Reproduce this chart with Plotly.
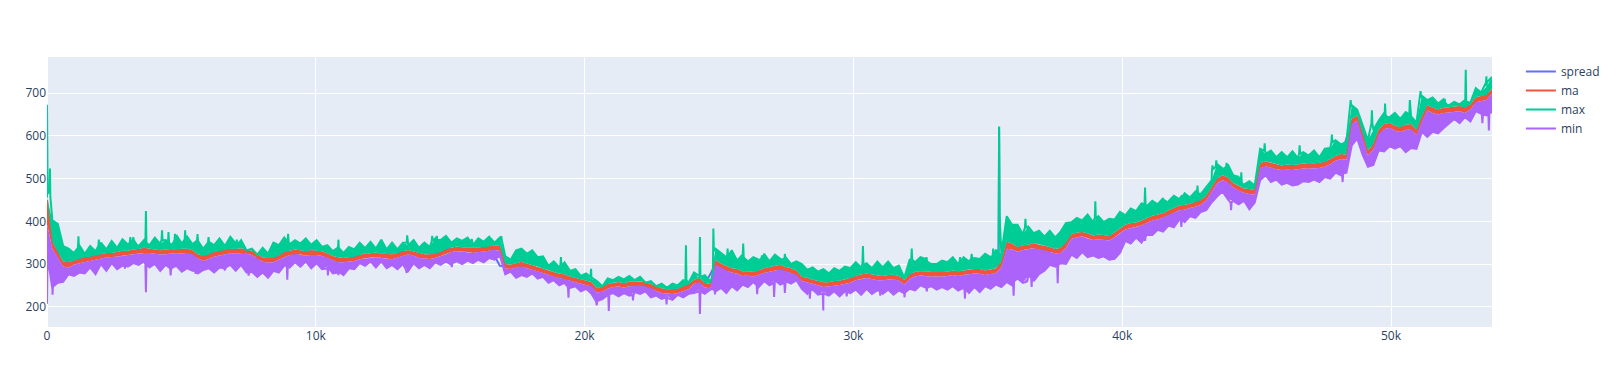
import plotly.graph_objects as go

LAST_INDEX = 53756          # last sample index on the x axis

# ---- moving average, one reading per bin (269 bins across the series)
ma = [
    450, 345, 322, 300, 298,  303, 307, 310, 312, 315,
    318, 320, 321, 323, 325,  326, 328, 330, 332, 331,
    329, 327, 328, 330, 329,  330, 331, 327, 318, 313,
    317, 322, 326, 328, 330,  330, 331, 329, 326, 318,
    310, 308, 309, 315, 322,  326, 328, 327, 325, 327,
    326, 324, 320, 314, 310,  309, 310, 312, 316, 319,
    320, 321, 319, 318, 317,  320, 324, 328, 325, 320,
    318, 317, 319, 323, 329,  333, 335, 334, 333, 332,
    333, 334, 336, 338, 337,  295, 293, 297, 299, 296,
    292, 288, 284, 280, 276,  272, 270, 266, 262, 260,
    256, 252, 238, 240, 248,  251, 252, 250, 253, 254,
    254, 252, 248, 242, 238,  236, 235, 237, 242, 247,
    258, 262, 250, 248, 305,  296, 290, 285, 282, 278,
    278, 275, 280, 284, 288,  290, 292, 288, 284, 280,
    265, 262, 258, 255, 252,  252, 254, 256, 258, 262,
    267, 270, 272, 270, 268,  267, 268, 270, 266, 258,
    270, 276, 278, 277, 276,  276, 275, 277, 279, 278,
    280, 281, 283, 282, 280,  282, 284, 300, 345, 342,
    335, 338, 340, 343, 340,  338, 334, 330, 332, 345,
    365, 368, 370, 366, 362,  364, 362, 360, 368, 378,
    387, 390, 392, 396, 402,  408, 410, 414, 420, 426,
    432, 433, 436, 440, 445,  455, 475, 495, 502, 498,
    485, 478, 472, 470, 468,  530, 535, 532, 528, 526,
    527, 526, 528, 530, 529,  530, 531, 534, 540, 548,
    552, 550, 635, 642, 600,  560, 575, 610, 622, 625,
    618, 615, 620, 622, 608,  640, 666, 660, 656, 660,
    661, 662, 664, 660, 668,  685, 688, 690, 705,
]

# ---- rolling max: upper edge and lower edge of the green band, per bin
max_top = [
    455, 402, 394, 342, 336,  326, 344, 324, 342, 330,
    350, 334, 354, 338, 358,  346, 362, 342, 356, 344,
    362, 347, 356, 345, 368,  348, 364, 346, 360, 336,
    354, 344, 360, 342, 364,  348, 356, 332, 336, 322,
    338, 324, 350, 344, 362,  346, 356, 348, 360, 345,
    356, 340, 344, 330, 342,  326, 340, 334, 350, 337,
    352, 336, 357, 334, 350,  334, 350, 344, 356, 338,
    350, 340, 360, 356, 366,  350, 360, 354, 362, 344,
    360, 352, 364, 350, 362,  318, 310, 332, 336, 324,
    332, 316, 318, 296, 306,  292, 304, 284, 288, 272,
    278, 264, 260, 248, 266,  262, 270, 264, 272, 262,
    270, 256, 260, 248, 254,  244, 254, 250, 262, 256,
    280, 266, 274, 260, 336,  326, 316, 332, 308, 322,
    306, 316, 310, 324, 306,  322, 312, 316, 300, 306,
    300, 286, 292, 282, 288,  278, 290, 284, 294, 290,
    304, 292, 302, 290, 306,  292, 306, 290, 296, 268,
    310, 304, 316, 312, 300,  300, 308, 304, 316, 300,
    316, 306, 314, 312, 324,  316, 332, 324, 412, 392,
    392, 370, 388, 372, 378,  364, 378, 362, 376, 396,
    398, 408, 402, 416, 398,  412, 398, 406, 404, 422,
    414, 430, 424, 442, 436,  448, 440, 454, 446, 460,
    452, 466, 456, 470, 464,  480, 496, 534, 524, 534,
    508, 504, 486, 494, 484,  570, 558, 566, 550, 562,
    550, 564, 548, 562, 554,  566, 550, 570, 572, 590,
    580, 586, 672, 662, 624,  590, 614, 636, 654, 644,
    654, 640, 656, 646, 632,  694, 684, 690, 676, 686,
    672, 680, 674, 684, 678,  712, 702, 716, 738,
]
max_low = [
    455, 352, 328, 306, 304,  308, 312, 316, 317, 320,
    323, 326, 326, 328, 331,  331, 334, 335, 338, 336,
    334, 332, 334, 335, 334,  336, 336, 332, 323, 319,
    322, 328, 331, 333, 336,  335, 337, 334, 331, 324,
    315, 314, 314, 320, 328,  331, 334, 332, 330, 333,
    331, 330, 325, 319, 316,  314, 316, 317, 321, 325,
    325, 327, 324, 323, 323,  325, 330, 333, 330, 326,
    323, 323, 324, 328, 335,  338, 341, 339, 338, 338,
    338, 340, 341, 344, 342,  300, 299, 302, 305, 301,
    297, 294, 289, 286, 281,  277, 276, 271, 268, 265,
    261, 258, 243, 246, 253,  256, 258, 255, 259, 259,
    259, 258, 253, 248, 243,  241, 241, 242, 248, 252,
    263, 268, 255, 254, 310,  301, 296, 290, 288, 283,
    283, 281, 285, 290, 293,  295, 298, 293, 290, 285,
    270, 268, 263, 261, 257,  257, 260, 261, 264, 267,
    272, 276, 277, 276, 273,  272, 274, 275, 272, 263,
    275, 282, 283, 283, 281,  281, 281, 282, 285, 283,
    285, 287, 288, 288, 285,  287, 290, 305, 352, 348,
    340, 344, 345, 349, 345,  343, 340, 335, 338, 350,
    370, 374, 375, 372, 367,  369, 368, 365, 374, 383,
    392, 396, 397, 402, 407,  413, 416, 419, 426, 431,
    437, 439, 441, 446, 450,  460, 481, 500, 508, 503,
    490, 484, 477, 476, 473,  536, 541, 537, 534, 531,
    533, 532, 533, 536, 534,  536, 537, 539, 546, 553,
    558, 556, 641, 648, 606,  566, 581, 616, 628, 631,
    624, 621, 626, 628, 614,  646, 672, 666, 662, 666,
    667, 668, 670, 666, 674,  691, 694, 696, 711,
]
# narrow spikes of the max line: sample index and value
max_spike_x = [
    0, 25, 95, 110, 125, 1150, 1170, 1190, 1910, 1930, 1950,
    3080, 3100, 3120, 3190, 3210, 3230, 3660, 3680, 3700,
    4260, 4280, 4300, 4500, 4520, 4540, 4740, 4760, 4780,
    5120, 5140, 5160, 5580, 5600, 5620, 5990, 6010, 6030,
    7040, 7060, 7080, 8950, 8970, 8990, 10820, 10840, 10860,
    13380, 13400, 13420, 14310, 14330, 14350, 14480, 14500, 14520,
    15780, 15800, 15820, 16880, 16900, 16920, 19100, 19120, 19140,
    20220, 20240, 20260, 23750, 23770, 23790, 24270, 24290, 24310,
    24770, 24790, 24810, 25300, 25320, 25340, 25880, 25900, 25920,
    26580, 26600, 26620, 27430, 27450, 27470, 30335, 30355, 30375,
    32150, 32170, 32190, 32700, 32720, 32740, 33950, 33970, 33990,
    34380, 34400, 34420, 35180, 35200, 35220, 35400, 35420, 35440,
    36380, 36400, 36420, 38980, 39000, 39020, 40830, 40850, 40870,
    41580, 41600, 41620, 42210, 42230, 42250, 42780, 42800, 42820,
    43340, 43360, 43380, 43480, 43500, 43520, 43860, 43880, 43900,
    44410, 44430, 44450, 45280, 45300, 45320, 46580, 46600, 46620,
    47780, 47800, 47820, 48480, 48500, 48520, 49270, 49290, 49310,
    49760, 49780, 49800, 50680, 50700, 50720, 51080, 51100, 51120,
    51980, 52000, 52020, 52760, 52780, 52800, 53530, 53550, 53570,
]
max_spike_y = [
    673, 465, 470, 524, 458, 338, 365, 336, 342, 357, 340,
    350, 363, 348, 352, 363, 350, 350, 424, 350,
    356, 379, 355, 352, 375, 350, 350, 371, 352,
    357, 379, 357, 355, 370, 352, 350, 363, 352,
    345, 357, 344, 352, 371, 352, 338, 357, 337,
    350, 367, 350, 352, 366, 354, 355, 366, 356,
    350, 359, 352, 357, 365, 356, 298, 316, 296,
    270, 289, 268, 260, 344, 262, 272, 363, 270,
    268, 383, 330, 318, 336, 318, 318, 348, 315,
    310, 320, 308, 306, 324, 304, 300, 342, 298,
    310, 336, 310, 304, 316, 305, 306, 316, 305,
    312, 324, 312, 320, 336, 322, 330, 622, 412,
    385, 406, 385, 408, 447, 406, 440, 479, 440,
    440, 449, 440, 458, 461, 458, 466, 484, 466,
    520, 531, 522, 528, 543, 528, 520, 537, 518,
    490, 515, 488, 565, 583, 565, 558, 578, 558,
    585, 603, 585, 668, 684, 668, 630, 660, 628,
    645, 676, 645, 650, 684, 650, 690, 705, 690,
    674, 687, 674, 680, 755, 680, 725, 740, 726,
]

# ---- rolling min: upper edge and lower edge of the purple band, per bin
min_top = [
    395, 335, 316, 294, 292,  298, 302, 305, 307, 310,
    313, 315, 316, 318, 319,  321, 323, 325, 326, 326,
    324, 322, 322, 325, 324,  325, 326, 322, 313, 307,
    312, 317, 320, 323, 325,  325, 325, 324, 321, 313,
    305, 303, 304, 310, 316,  321, 323, 322, 320, 321,
    321, 319, 315, 309, 304,  304, 305, 307, 311, 313,
    315, 316, 314, 313, 311,  315, 319, 323, 320, 314,
    313, 312, 314, 318, 323,  328, 330, 329, 328, 326,
    328, 329, 331, 333, 331,  290, 288, 292, 294, 290,
    287, 283, 279, 275, 270,  267, 265, 261, 257, 254,
    251, 247, 233, 235, 242,  246, 247, 245, 248, 248,
    249, 247, 243, 237, 232,  231, 230, 232, 237, 241,
    253, 257, 245, 243, 298,  291, 285, 280, 277, 272,
    273, 270, 275, 279, 282,  285, 287, 283, 279, 274,
    260, 257, 253, 250, 246,  247, 249, 251, 253, 256,
    262, 265, 267, 265, 262,  262, 263, 265, 261, 252,
    265, 271, 273, 272, 270,  271, 270, 272, 274, 272,
    275, 276, 278, 277, 274,  277, 279, 292, 336, 334,
    329, 333, 335, 337, 334,  332, 328, 325, 326, 338,
    359, 362, 365, 360, 356,  358, 356, 355, 362, 372,
    381, 384, 387, 390, 396,  402, 404, 409, 414, 420,
    426, 427, 431, 434, 439,  449, 469, 489, 496, 492,
    479, 472, 467, 464, 462,  524, 529, 526, 522, 520,
    521, 520, 522, 524, 523,  524, 525, 528, 534, 542,
    546, 544, 628, 636, 594,  554, 569, 604, 616, 619,
    612, 609, 614, 616, 602,  634, 660, 654, 650, 654,
    655, 656, 658, 654, 662,  679, 682, 684, 699,
]
min_low = [
    320, 245, 256, 258, 276,  272, 280, 278, 292, 276,
    300, 284, 302, 288, 296,  294, 302, 298, 306, 292,
    300, 284, 298, 286, 296,  282, 290, 284, 278, 286,
    290, 280, 292, 286, 298,  284, 298, 280, 282, 270,
    280, 268, 284, 280, 296,  292, 304, 294, 306, 290,
    302, 288, 294, 278, 282,  274, 290, 288, 302, 296,
    306, 292, 306, 290, 298,  288, 300, 284, 302, 290,
    298, 290, 304, 298, 306,  298, 306, 300, 308, 302,
    310, 304, 314, 310, 320,  276, 282, 268, 274, 270,
    278, 266, 270, 256, 262,  250, 256, 244, 248, 236,
    242, 230, 212, 218, 226,  232, 224, 232, 226, 234,
    230, 236, 222, 226, 218,  226, 216, 228, 222, 230,
    232, 240, 230, 240, 236,  244, 232, 248, 238, 252,
    246, 258, 246, 260, 250,  262, 252, 260, 254, 262,
    242, 230, 240, 228, 236,  226, 236, 224, 236, 232,
    240, 228, 242, 230, 238,  230, 240, 228, 238, 230,
    242, 238, 250, 244, 248,  240, 246, 240, 248, 238,
    244, 232, 246, 234, 248,  242, 252, 246, 258, 250,
    266, 256, 272, 260, 276,  284, 298, 294, 302, 300,
    322, 314, 328, 316, 320,  314, 318, 310, 312, 326,
    354, 348, 362, 350, 368,  368, 380, 376, 390, 386,
    404, 398, 412, 408, 422,  426, 444, 458, 470, 452,
    448, 440, 448, 428, 444,  496, 508, 492, 498, 486,
    490, 484, 486, 494, 492,  498, 492, 504, 500, 514,
    508, 514, 578, 594, 556,  528, 532, 566, 564, 576,
    570, 576, 562, 572, 570,  610, 598, 610, 606, 618,
    628, 640, 630, 644, 634,  658, 652, 648, 655,
]
# narrow downward spikes of the min line: sample index and value
min_spike_x = [
    0, 20, 190, 205, 220, 2880, 2900, 2920, 3660, 3680, 3700,
    4580, 4600, 4620, 5510, 5530, 5550, 6600, 6620, 6640,
    7480, 7500, 7520, 8920, 8940, 8960, 10430, 10450, 10470,
    10820, 10840, 10860, 13360, 13380, 13400, 15040, 15060, 15080,
    19380, 19400, 19420, 20430, 20450, 20470, 20880, 20900, 20920,
    21780, 21800, 21820, 23030, 23050, 23070, 24270, 24290, 24310,
    24830, 24850, 24870, 26400, 26420, 26440, 27030, 27050, 27070,
    27430, 27450, 27470, 28360, 28380, 28400, 28860, 28880, 28900,
    29730, 29750, 29770, 30980, 31000, 31020, 31880, 31900, 31920,
    32710, 32730, 32750, 34130, 34150, 34170, 35940, 35960, 35980,
    36420, 36440, 36460, 36610, 36630, 36650, 37580, 37600, 37620,
    40830, 40850, 40870, 42180, 42200, 42220, 44030, 44050, 44070,
    48180, 48200, 48220, 53380, 53400, 53420, 53620, 53640, 53660,
]
min_spike_y = [
    207, 318, 246, 228, 247, 296, 289, 297, 300, 234, 300,
    290, 273, 291, 284, 277, 285, 290, 285, 292,
    282, 273, 280, 296, 263, 297, 290, 273, 292,
    280, 274, 282, 286, 279, 288, 300, 293, 302,
    246, 221, 245, 212, 203, 213, 228, 190, 229,
    228, 215, 227, 222, 205, 221, 236, 183, 236,
    242, 229, 244, 250, 229, 252, 256, 223, 257,
    256, 232, 254, 240, 219, 238, 231, 191, 231,
    236, 224, 235, 238, 226, 236, 232, 222, 233,
    244, 236, 245, 240, 219, 242, 258, 226, 260,
    258, 263, 258, 270, 246, 272, 298, 255, 298,
    362, 354, 364, 404, 387, 404, 444, 426, 445,
    510, 492, 512, 650, 630, 650, 655, 613, 655,
]

# ---- raw spread, one reading per two bins
spread = [
    400, 330, 300, 312, 316,  322, 318, 326, 330, 335,
    330, 325, 333, 326, 316,  322, 330, 334, 327, 312,
    312, 314, 330, 322, 330,  328, 318, 306, 313, 320,
    318, 322, 318, 330, 322,  316, 323, 336, 334, 336,
    335, 341, 296, 294, 294,  294, 284, 274, 266, 262,
    256, 238, 252, 251, 254,  252, 244, 236, 234, 246,
    258, 252, 300, 286, 282,  275, 282, 290, 287, 282,
    264, 258, 252, 256, 260,  270, 272, 268, 270, 264,
    275, 279, 275, 278, 279,  280, 284, 282, 284, 346,
    338, 342, 336, 330, 334,  366, 372, 362, 360, 370,
    388, 392, 400, 410, 416,  430, 437, 452, 494, 502,
    484, 472, 468, 535, 528,  526, 530, 532, 534, 542,
    552, 636, 602, 575, 624,  618, 622, 610, 668, 658,
    662, 666, 670, 690, 704,
]
spread_spike_x = [35400, 35420, 35440]
spread_spike_y = [290, 620, 350]

COLORS = {"spread": "#636EFA", "ma": "#EF553B", "max": "#00CC96", "min": "#AB63FA"}


def positions(count):
    return [i * LAST_INDEX / (count - 1) for i in range(count)]


def merged(xs, ys, sx, sy):
    pts = sorted(list(zip(xs, ys)) + list(zip(sx, sy)), key=lambda p: p[0])
    return [p[0] for p in pts], [p[1] for p in pts]


def band(xs, upper, lower, color):
    return go.Scatter(
        x=list(xs) + list(xs[::-1]), y=list(upper) + list(lower[::-1]),
        mode="lines", fill="toself", fillcolor=color,
        line=dict(color=color, width=0), showlegend=False, hoverinfo="skip",
    )


xb = positions(len(ma))
xs_spread = positions(len(spread))

fig = go.Figure()
sx, sy = merged(xs_spread, spread, spread_spike_x, spread_spike_y)
fig.add_trace(go.Scatter(x=sx, y=sy, mode="lines", name="spread",
                         line=dict(color=COLORS["spread"], width=2)))
fig.add_trace(band(xb, max_low, min_top, COLORS["ma"]))
fig.add_trace(go.Scatter(x=xb, y=ma, mode="lines", name="ma",
                         line=dict(color=COLORS["ma"], width=2)))
fig.add_trace(band(xb, max_top, max_low, COLORS["max"]))
mx, my = merged(xb, max_top, max_spike_x, max_spike_y)
fig.add_trace(go.Scatter(x=mx, y=my, mode="lines", name="max",
                         line=dict(color=COLORS["max"], width=2)))
fig.add_trace(band(xb, min_top, min_low, COLORS["min"]))
nx, ny = merged(xb, min_low, min_spike_x, min_spike_y)
fig.add_trace(go.Scatter(x=nx, y=ny, mode="lines", name="min",
                         line=dict(color=COLORS["min"], width=2)))

fig.update_layout(
    width=1619,
    height=370,
    margin=dict(l=47, r=127, t=57, b=43),
    xaxis=dict(range=[0, LAST_INDEX + 1]),
    yaxis=dict(range=[152.4, 785]),
)

fig.write_html("out.html", config={"displayModeBar": False},
               post_script="document.body.style.margin='0';")
